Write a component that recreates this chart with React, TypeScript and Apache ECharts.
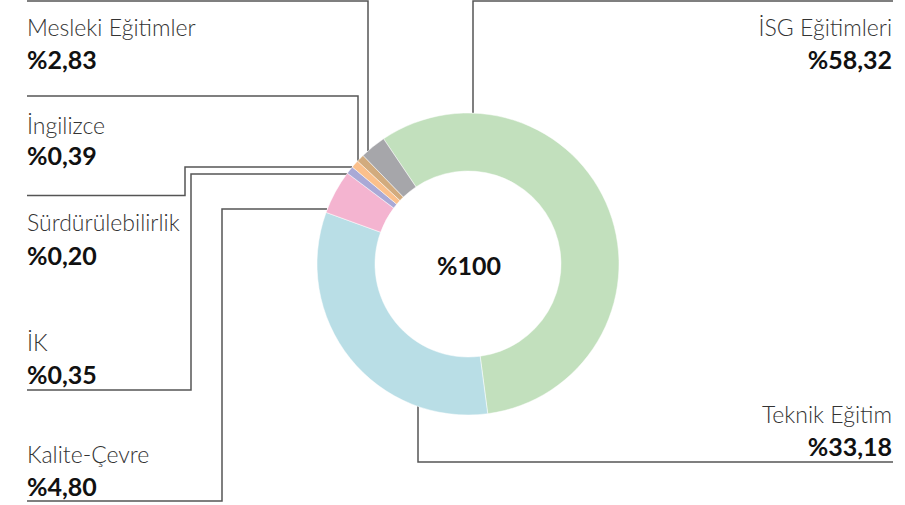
import React, { useEffect, useRef } from "react";
import * as echarts from "echarts";

const categories = [
  "İSG Eğitimleri",
  "Teknik Eğitim",
  "Kalite-Çevre",
  "İK",
  "Sürdürülebilirlik",
  "İngilizce",
  "Mesleki Eğitimler",
];
const values = [58.32, 33.18, 4.8, 0.35, 0.2, 0.39, 2.83];
const colors = ["#c2e0bd", "#b9dee6", "#f4b4d0", "#a9a9d6", "#fbc08c", "#d2ab7e", "#a6a6aa"];
const centerLabel = "%100";

// label layout: [name y, value y, x, align]
const labelLayout: [number, number, number, "left" | "right"][] = [
  [27, 58.5, 892, "right"],
  [414, 446, 892, "right"],
  [454, 485.5, 27, "left"],
  [342, 374, 27, "left"],
  [222, 254.5, 27, "left"],
  [125, 155, 27, "left"],
  [26.5, 58.5, 27, "left"],
];
const leaderLines: number[][][] = [
  [[893, 1], [473, 1], [473, 113]],
  [[893, 462], [418, 462], [418, 406]],
  [[27, 501], [222, 501], [222, 209], [327, 209]],
  [[27, 390], [191, 390], [191, 174], [347, 174]],
  [[27, 195.5], [185, 195.5], [185, 167], [352, 167]],
  [[27, 96], [358, 96], [358, 161]],
  [[27, 1], [368, 1], [368, 151]],
];

const fmt = (v: number) => "%" + v.toFixed(2).replace(".", ",");

export default function App() {
  const ref = useRef<HTMLDivElement>(null);
  useEffect(() => {
    document.body.style.margin = "0";
    const chart = echarts.init(ref.current!, null, { renderer: "svg" });
    const graphics: any[] = [];
    leaderLines.forEach((pts) => {
      graphics.push({
        type: "polyline",
        shape: { points: pts },
        style: { stroke: "#555", lineWidth: 1.5, fill: null },
        silent: true,
      });
    });
    categories.forEach((name, i) => {
      const [ny, vy, x, align] = labelLayout[i];
      graphics.push({
        type: "text",
        x,
        y: ny,
        style: {
          text: name,
          fontFamily: "Lato",
          fontWeight: 300,
          fontSize: 23,
          fill: "#333",
          align,
          verticalAlign: "middle",
        },
      });
      graphics.push({
        type: "text",
        x,
        y: vy,
        style: {
          text: fmt(values[i]),
          fontFamily: "Lato",
          fontWeight: "bold",
          fontSize: 25,
          fill: "#111",
          align,
          verticalAlign: "middle",
        },
      });
    });
    graphics.push({
      type: "text",
      x: 469,
      y: 265,
      style: {
        text: centerLabel,
        fontFamily: "Lato",
        fontWeight: "bold",
        fontSize: 25,
        fill: "#111",
        align: "center",
        verticalAlign: "middle",
      },
    });
    chart.setOption({
      animation: false,
      graphic: graphics,
      series: [
        {
          type: "pie",
          center: [468, 264],
          radius: [93, 151],
          startAngle: 124,
          clockwise: true,
          minAngle: 3,
          silent: true,
          label: { show: false },
          labelLine: { show: false },
          itemStyle: { borderColor: "#fff", borderWidth: 0.5 },
          data: categories.map((name, i) => ({
            name,
            value: values[i],
            itemStyle: { color: colors[i] },
          })),
        },
      ],
    });
    return () => chart.dispose();
  }, []);
  return <div ref={ref} style={{ width: 905, height: 505 }} />;
}
